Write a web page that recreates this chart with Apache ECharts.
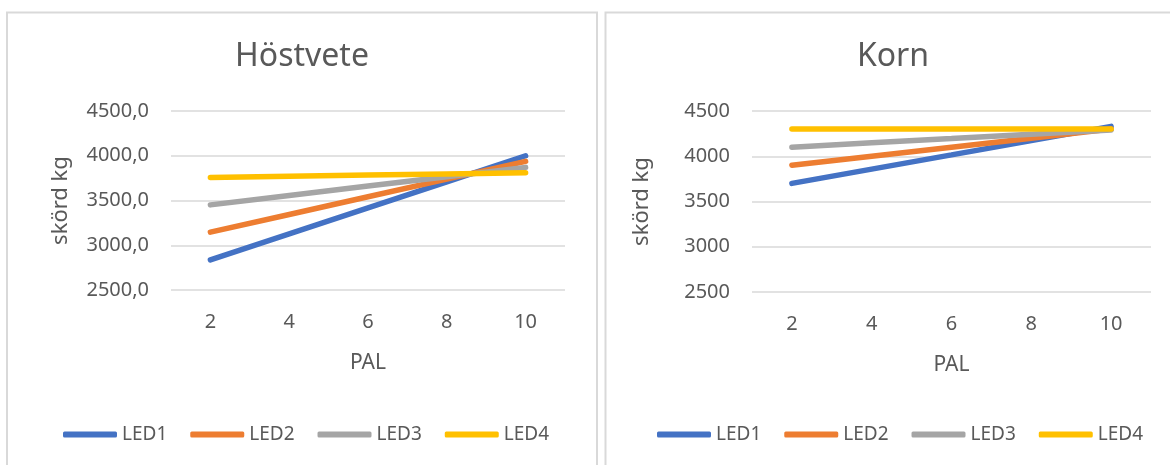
<!DOCTYPE html>
<html>
<head>
<meta charset="utf-8">
<script src="https://cdn.jsdelivr.net/npm/echarts@6/dist/echarts.min.js"></script>
<style>
  html, body { margin: 0; padding: 0; background: #ffffff; }
  #chart { width: 1170px; height: 465px; }
</style>
</head>
<body>
<div id="chart"></div>
<script>
// PAL levels on the x axis
const palLevels = ['2', '4', '6', '8', '10'];
const seriesNames = ['LED1', 'LED2', 'LED3', 'LED4'];
const seriesColors = ['#4472C4', '#ED7D31', '#A5A5A5', '#FFC000'];

// Yield (kg) – winter wheat
const hostveteLED1 = [2836, 3127, 3418, 3709, 4000];
const hostveteLED2 = [3146, 3344, 3542, 3739, 3937];
const hostveteLED3 = [3451, 3556, 3661, 3765, 3870];
const hostveteLED4 = [3757, 3770, 3784, 3797, 3810];

// Yield (kg) – barley
const kornLED1 = [3700, 3858, 4015, 4173, 4330];
const kornLED2 = [3900, 4000, 4100, 4200, 4300];
const kornLED3 = [4100, 4148, 4195, 4243, 4290];
const kornLED4 = [4300, 4300, 4300, 4300, 4300];

const yTicks = { min: 2500, max: 4500, interval: 500 };

const FONT = '"Noto Sans", "DejaVu Sans", sans-serif';
const TEXT = '#595959';
const GRID = '#d9d9d9';

function xAxisFor(gridIndex) {
  return {
    type: 'category', gridIndex, data: palLevels, boundaryGap: true,
    axisLine: { show: false }, axisTick: { show: false },
    axisLabel: { color: TEXT, fontSize: 20, fontFamily: FONT, margin: 22 },
    name: 'PAL', nameLocation: 'middle', nameGap: 63,
    nameTextStyle: { color: TEXT, fontSize: 21, fontFamily: FONT }
  };
}

function yAxisFor(gridIndex, formatter) {
  return {
    type: 'value', gridIndex, min: yTicks.min, max: yTicks.max, interval: yTicks.interval,
    axisLine: { show: false }, axisTick: { show: false },
    splitLine: { lineStyle: { color: GRID, width: 1.5 } },
    axisLabel: { color: TEXT, fontSize: 20, fontFamily: FONT, margin: 22, formatter },
    name: 'skörd kg', nameLocation: 'middle', nameRotate: 90, nameGap: 99,
    nameTextStyle: { color: TEXT, fontSize: 22, fontFamily: FONT }
  };
}

function lineSeries(idx, name, data) {
  const color = seriesColors[seriesNames.indexOf(name)];
  return {
    type: 'line', name, data,
    xAxisIndex: idx, yAxisIndex: idx,
    symbol: 'none', smooth: false,
    lineStyle: { width: 5.5, cap: 'round', color },
    itemStyle: { color },
    emphasis: { disabled: true }
  };
}

function legendFor(left) {
  return {
    data: seriesNames, left, top: 420, orient: 'horizontal',
    icon: 'roundRect', itemWidth: 54, itemHeight: 6, itemGap: 23,
    textStyle: { color: TEXT, fontSize: 19, fontFamily: FONT }
  };
}

const chart = echarts.init(document.getElementById('chart'), null, { renderer: 'canvas' });

chart.setOption({
  animation: false,
  color: seriesColors,
  graphic: [
    { type: 'rect', shape: { x: 7, y: 12.5, width: 590, height: 480 },
      style: { fill: 'none', stroke: GRID, lineWidth: 2 }, silent: true },
    { type: 'rect', shape: { x: 605.5, y: 12.5, width: 590, height: 480 },
      style: { fill: 'none', stroke: GRID, lineWidth: 2 }, silent: true }
  ],
  title: [
    { text: 'Höstvete', left: 297, top: 36, textAlign: 'center',
      textStyle: { color: TEXT, fontSize: 32, fontWeight: 'normal', fontFamily: FONT } },
    { text: 'Korn', left: 888, top: 36, textAlign: 'center',
      textStyle: { color: TEXT, fontSize: 32, fontWeight: 'normal', fontFamily: FONT } }
  ],
  legend: [legendFor(58), legendFor(652)],
  grid: [
    { left: 171, right: 605, top: 111, height: 179 },
    { left: 752, right: 19, top: 111, height: 181 }
  ],
  xAxis: [xAxisFor(0), xAxisFor(1)],
  yAxis: [
    yAxisFor(0, v => v.toFixed(1).replace('.', ',')),
    yAxisFor(1, v => String(v))
  ],
  series: [
    lineSeries(0, 'LED1', hostveteLED1),
    lineSeries(0, 'LED2', hostveteLED2),
    lineSeries(0, 'LED3', hostveteLED3),
    lineSeries(0, 'LED4', hostveteLED4),
    lineSeries(1, 'LED1', kornLED1),
    lineSeries(1, 'LED2', kornLED2),
    lineSeries(1, 'LED3', kornLED3),
    lineSeries(1, 'LED4', kornLED4)
  ]
});
</script>
</body>
</html>
